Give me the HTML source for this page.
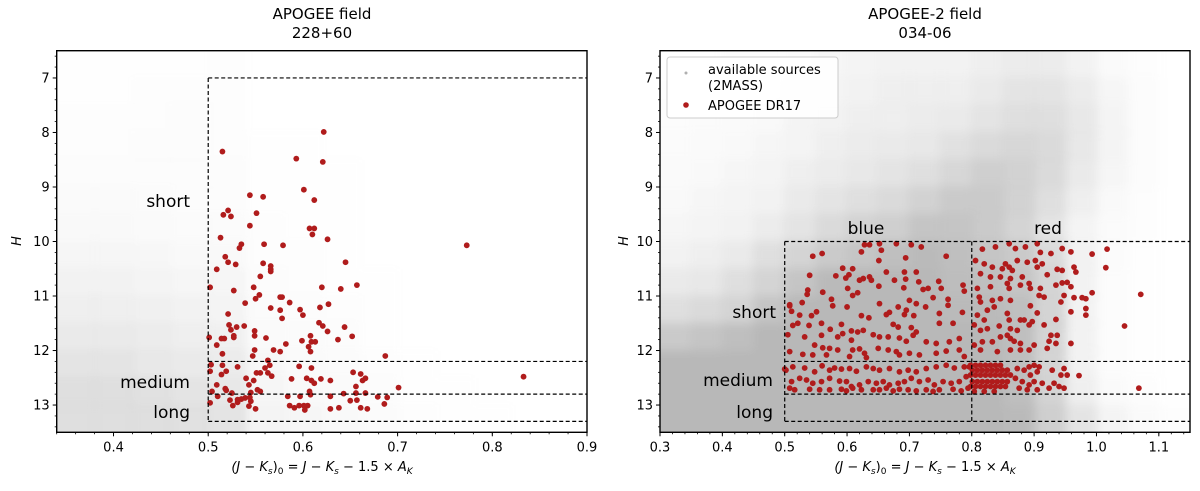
<!DOCTYPE html>
<html><head><meta charset="utf-8"><style>
html,body{margin:0;padding:0;background:#fff;}
svg text{font-family:"DejaVu Sans","Liberation Sans",sans-serif;}
</style></head><body>
<svg id="fig" width="1200" height="486" viewBox="0 0 1200 486" xmlns="http://www.w3.org/2000/svg">
<defs>
<filter id="blurR" x="-5%" y="-5%" width="110%" height="110%"><feGaussianBlur stdDeviation="5"/></filter>
<filter id="blurL" x="-5%" y="-5%" width="110%" height="110%"><feGaussianBlur stdDeviation="4"/></filter>
<clipPath id="clipL"><rect x="56.7" y="50.7" width="530.3" height="381.6"/></clipPath>
<clipPath id="clipR"><rect x="660" y="50.7" width="530" height="381.6"/></clipPath>
</defs>
</svg>
<script>
// ---------- data ----------
const leftRedX = [0.622,0.515,0.593,0.621,0.601,0.544,0.558,0.612,0.551,0.521,0.516,0.524,0.544,0.607,0.612,0.610,0.513,0.626,0.535,0.533,0.559,0.579,0.773,0.518,0.521,0.529,0.509,0.558,0.566,0.566,0.566,0.645,0.555,0.502,0.548,0.620,0.640,0.657,0.527,0.554,0.550,0.576,0.578,0.586,0.539,0.566,0.576,0.597,0.600,0.618,0.627,0.521,0.578,0.617,0.621,0.644,0.626,0.522,0.524,0.530,0.538,0.549,0.549,0.501,0.514,0.517,0.527,0.527,0.561,0.608,0.599,0.609,0.613,0.606,0.608,0.637,0.652,0.582,0.509,0.569,0.576,0.549,0.547,0.515,0.687,0.563,0.503,0.515,0.531,0.565,0.560,0.596,0.609,0.502,0.519,0.514,0.551,0.555,0.563,0.567,0.653,0.661,0.540,0.548,0.588,0.604,0.619,0.629,0.666,0.663,0.609,0.612,0.833,0.509,0.543,0.701,0.504,0.518,0.519,0.525,0.545,0.552,0.555,0.607,0.608,0.643,0.656,0.656,0.666,0.510,0.523,0.531,0.535,0.539,0.526,0.531,0.544,0.545,0.543,0.550,0.502,0.584,0.597,0.629,0.586,0.591,0.596,0.601,0.605,0.602,0.629,0.638,0.650,0.657,0.661,0.668,0.679,0.689,0.686];
const leftRedH = [7.99,8.35,8.48,8.54,9.05,9.15,9.18,9.24,9.48,9.43,9.51,9.54,9.71,9.76,9.76,9.87,9.93,9.96,10.05,10.12,10.05,10.07,10.07,10.28,10.38,10.42,10.51,10.40,10.45,10.51,10.55,10.38,10.64,10.84,10.84,10.84,10.87,10.80,10.90,10.98,11.05,11.02,11.02,11.12,11.13,11.22,11.26,11.25,11.35,11.21,11.15,11.33,11.41,11.49,11.55,11.57,11.65,11.53,11.62,11.57,11.55,11.64,11.73,11.76,11.78,11.78,11.76,11.73,11.77,11.73,11.82,11.84,11.84,11.93,12.02,11.80,11.74,11.88,11.90,11.99,12.02,11.99,12.10,12.06,12.10,12.18,12.26,12.27,12.30,12.27,12.32,12.29,12.32,12.38,12.38,12.44,12.41,12.41,12.41,12.47,12.40,12.43,12.51,12.55,12.52,12.51,12.52,12.55,12.51,12.55,12.55,12.60,12.48,12.63,12.63,12.68,12.75,12.70,12.73,12.78,12.77,12.72,12.75,12.75,12.81,12.79,12.66,12.78,12.78,12.84,12.91,12.90,12.89,12.87,13.01,12.95,12.86,12.93,13.02,13.07,12.96,12.84,12.84,12.84,13.01,13.05,13.01,13.01,13.01,13.09,13.07,13.05,12.92,12.91,13.05,13.07,12.85,12.86,12.98];
const rightRedX = [0.628,0.636,0.652,0.679,0.703,0.719,0.623,0.655,0.545,0.560,0.759,0.651,0.694,0.593,0.609,0.711,0.663,0.692,0.540,0.582,0.598,0.603,0.620,0.626,0.636,0.639,0.676,0.694,0.715,0.747,0.651,0.691,0.601,0.617,0.609,0.561,0.537,0.536,0.730,0.722,0.751,0.786,0.788,0.738,0.575,0.577,0.600,0.652,0.682,0.695,0.700,0.711,0.726,0.762,0.762,0.551,0.508,0.511,0.528,0.623,0.635,0.663,0.668,0.692,0.707,0.748,0.785,0.524,0.543,0.513,0.521,0.539,0.559,0.573,0.591,0.593,0.607,0.617,0.626,0.642,0.674,0.682,0.703,0.711,0.748,0.770,0.505,0.532,0.559,0.585,0.607,0.652,0.666,0.684,0.695,0.706,0.727,0.743,0.764,0.780,0.548,0.561,0.572,0.585,0.609,0.620,0.628,0.650,0.666,0.679,0.684,0.700,0.743,0.759,0.780,0.508,0.529,0.545,0.567,0.604,0.631,0.716,0.788,
0.502,0.513,0.532,0.548,0.560,0.572,0.580,0.591,0.604,0.615,0.631,0.642,0.652,0.668,0.684,0.698,0.711,0.727,0.743,0.759,0.772,0.788,0.796,
0.511,0.524,0.535,0.545,0.559,0.572,0.588,0.599,0.607,0.620,0.634,0.647,0.658,0.668,0.682,0.692,0.703,0.716,0.730,0.740,0.754,0.767,0.780,0.791,
0.508,0.516,0.540,0.556,0.572,0.591,0.599,0.609,0.623,0.642,0.652,0.663,0.674,0.684,0.698,0.711,0.727,0.738,0.748,0.770,0.783,0.794,0.500,0.508,
0.817,0.838,0.860,0.870,0.886,0.905,0.910,0.927,0.945,0.959,0.993,1.017,1.015,1.071,1.045,1.068,0.806,0.820,0.833,0.849,0.854,0.860,0.865,0.873,0.889,0.902,0.905,0.913,0.937,0.945,0.964,0.967,0.814,0.846,0.862,0.881,0.921,0.830,0.809,0.830,0.857,0.860,0.878,0.892,0.894,0.910,0.935,0.945,0.953,0.959,0.983,0.977,0.993,0.964,0.948,0.812,0.814,0.833,0.846,0.862,0.916,0.908,0.943,0.894,0.905,0.836,0.825,0.809,0.857,0.860,0.878,0.884,0.897,0.935,0.983,0.983,0.959,0.820,0.804,0.814,0.825,0.844,0.862,0.873,0.892,0.916,0.927,0.937,0.924,0.935,0.959,0.857,0.862,0.846,0.868,0.878,0.833,0.817,0.804,0.814,0.841,0.862,0.878,0.892,0.900,0.921,
0.798,0.806,0.814,0.822,0.830,0.838,0.846,
0.801,0.809,0.817,0.825,0.833,0.841,0.849,0.857,
0.798,0.806,0.814,0.822,0.830,0.838,0.846,0.854,0.862,
0.801,0.809,0.817,0.825,0.833,0.841,0.849,0.857,
0.798,0.806,0.814,0.822,0.830,0.838,0.846,0.854,
0.804,0.820,0.836,
0.873,0.884,0.892,0.900,0.908,0.905,0.894,0.870,0.881,0.892,0.900,0.913,0.929,0.943,0.953,0.948,0.972,0.932,0.940,0.924,0.905,0.876,0.889,0.948];
const rightRedH = [10.06,10.06,10.04,10.04,10.06,10.10,10.19,10.16,10.27,10.22,10.27,10.35,10.30,10.49,10.50,10.56,10.56,10.56,10.62,10.63,10.67,10.61,10.71,10.68,10.65,10.71,10.71,10.69,10.74,10.73,10.82,10.85,10.86,10.94,10.99,10.93,10.89,10.97,10.86,10.88,10.86,10.80,10.91,11.03,11.06,11.18,11.20,11.14,11.20,11.26,11.08,11.14,11.20,11.06,11.17,11.29,11.18,11.28,11.12,11.36,11.40,11.34,11.30,11.34,11.36,11.32,11.30,11.35,11.36,11.54,11.50,11.54,11.50,11.61,11.52,11.69,11.64,11.66,11.63,11.71,11.52,11.57,11.58,11.66,11.50,11.50,11.71,11.75,11.72,11.75,11.81,11.75,11.75,11.77,11.83,11.72,11.84,11.87,11.84,11.78,11.90,11.95,11.96,11.99,11.99,11.97,12.05,11.96,11.99,12.02,12.08,12.05,12.05,12.01,11.99,12.02,12.07,12.08,12.08,12.11,12.13,12.08,12.11,
12.36,12.30,12.32,12.39,12.28,12.36,12.32,12.34,12.33,12.38,12.30,12.33,12.36,12.33,12.39,12.36,12.39,12.33,12.30,12.27,12.32,12.30,12.30,
12.57,12.51,12.54,12.60,12.57,12.51,12.56,12.57,12.66,12.63,12.57,12.60,12.57,12.63,12.60,12.57,12.51,12.57,12.54,12.63,12.57,12.60,12.57,12.48,
12.69,12.72,12.71,12.72,12.72,12.71,12.74,12.69,12.72,12.72,12.72,12.69,12.74,12.71,12.72,12.74,12.72,12.75,12.72,12.71,12.74,12.69,12.34,11.16,
10.14,10.10,10.04,10.13,10.10,10.04,10.20,10.22,10.13,10.19,10.23,10.14,10.48,10.97,11.55,12.69,10.35,10.41,10.47,10.50,10.41,10.47,10.53,10.35,10.38,10.35,10.47,10.41,10.51,10.53,10.47,10.56,10.59,10.65,10.68,10.65,10.61,10.65,10.86,10.83,10.77,10.86,10.80,10.77,10.86,10.86,10.80,10.76,10.75,10.83,11.05,11.03,10.94,11.03,10.99,11.02,11.11,11.08,11.05,11.08,11.02,10.99,11.11,11.18,11.31,11.20,11.26,11.35,11.32,11.44,11.44,11.44,11.47,11.43,11.23,11.35,11.29,11.44,11.53,11.63,11.60,11.55,11.60,11.63,11.53,11.53,11.72,11.72,11.83,11.87,11.87,11.72,11.78,11.75,11.83,11.87,11.84,11.84,11.90,11.99,12.02,11.99,11.99,11.99,11.90,11.96,
12.27,12.27,12.27,12.27,12.27,12.27,12.27,
12.36,12.36,12.36,12.36,12.36,12.36,12.36,12.36,
12.45,12.45,12.45,12.45,12.45,12.45,12.45,12.45,12.45,
12.57,12.57,12.57,12.57,12.57,12.57,12.57,12.57,
12.66,12.66,12.66,12.66,12.66,12.66,12.66,12.66,
12.75,12.75,12.75,
12.33,12.36,12.30,12.27,12.30,12.39,12.45,12.51,12.57,12.63,12.57,12.60,12.36,12.45,12.45,12.33,12.46,12.60,12.66,12.69,12.72,12.69,12.72,12.69];

// gray-source density grids (bin lower edges)
const leftGrayXBins = [0.34,0.38,0.42,0.46,0.50,0.54,0.58,0.62,0.66,0.70,0.74,0.78,0.82,0.86];
const leftGrayHBins = [6.5,7.0,7.5,8.0,8.5,9.0,9.5,10.0,10.5,11.0,11.5,12.0,12.5,13.0];
const leftGrayDensity = [
[0.01,0.01,0.01,0.01,0.02,0,0,0,0,0,0,0,0,0],
[0.01,0.01,0.02,0.02,0.02,0,0,0,0,0,0,0,0,0],
[0.02,0.02,0.02,0.03,0.02,0,0,0,0,0,0,0,0,0],
[0.02,0.02,0.03,0.03,0.02,0.01,0.01,0,0,0,0,0,0,0],
[0.03,0.03,0.03,0.03,0.03,0.01,0.01,0.01,0,0,0,0,0,0],
[0.05,0.05,0.04,0.03,0.03,0.01,0.01,0.01,0,0,0,0,0,0],
[0.06,0.06,0.05,0.04,0.04,0.02,0.01,0.01,0,0,0,0,0,0],
[0.08,0.08,0.07,0.06,0.06,0.02,0.02,0.01,0,0,0,0,0,0],
[0.12,0.12,0.10,0.08,0.08,0.03,0.02,0.01,0.01,0,0,0,0,0],
[0.15,0.15,0.14,0.12,0.10,0.04,0.03,0.02,0.01,0,0,0,0,0],
[0.20,0.20,0.18,0.15,0.14,0.05,0.04,0.03,0.01,0,0,0,0,0],
[0.25,0.25,0.22,0.20,0.18,0.07,0.05,0.04,0.02,0.01,0,0,0,0],
[0.30,0.30,0.28,0.25,0.22,0.08,0.06,0.05,0.03,0.01,0.01,0,0,0],
[0.30,0.30,0.30,0.28,0.25,0.10,0.08,0.06,0.04,0.02,0.01,0.01,0,0]];
const rightGrayXBins = [0.30,0.35,0.40,0.45,0.50,0.55,0.60,0.65,0.70,0.75,0.80,0.85,0.90,0.95,1.00,1.05,1.10];
const rightGrayHBins = [6.5,7.0,7.5,8.0,8.5,9.0,9.5,10.0,10.5,11.0,11.5,12.0,12.5,13.0];
const rightGrayDensity = [
[0,0,0.03,0.03,0.05,0.08,0.10,0.12,0.12,0.12,0.15,0.18,0.18,0.12,0.05,0.02,0],
[0.02,0.03,0.04,0.05,0.08,0.10,0.12,0.15,0.15,0.15,0.20,0.25,0.25,0.18,0.08,0.03,0],
[0.03,0.04,0.05,0.06,0.10,0.12,0.15,0.15,0.18,0.20,0.25,0.30,0.30,0.22,0.10,0.03,0],
[0.04,0.05,0.06,0.08,0.10,0.15,0.18,0.20,0.22,0.28,0.35,0.38,0.35,0.22,0.10,0.03,0],
[0.05,0.06,0.08,0.10,0.15,0.18,0.22,0.25,0.30,0.38,0.45,0.42,0.35,0.20,0.08,0.03,0],
[0.06,0.08,0.10,0.12,0.20,0.25,0.30,0.35,0.42,0.50,0.50,0.42,0.30,0.15,0.06,0.02,0],
[0.08,0.10,0.12,0.18,0.25,0.35,0.42,0.45,0.55,0.55,0.50,0.40,0.25,0.10,0.04,0.02,0],
[0.12,0.15,0.20,0.30,0.40,0.50,0.55,0.60,0.65,0.60,0.55,0.50,0.35,0.12,0.04,0.01,0],
[0.20,0.22,0.30,0.40,0.55,0.65,0.70,0.70,0.70,0.62,0.60,0.55,0.40,0.12,0.03,0.01,0],
[0.30,0.35,0.40,0.55,0.70,0.80,0.80,0.80,0.75,0.65,0.65,0.60,0.40,0.12,0.03,0.01,0],
[0.50,0.55,0.60,0.70,0.85,0.90,0.90,0.90,0.85,0.70,0.70,0.60,0.40,0.12,0.03,0.01,0],
[0.80,0.80,0.85,0.90,0.95,0.95,0.95,0.95,0.90,0.75,0.75,0.60,0.40,0.12,0.03,0.01,0],
[0.95,0.95,1,1,1,1,1,1,0.95,0.85,0.80,0.60,0.40,0.15,0.05,0.02,0],
[1,1,1,1,1,1,1,1,1,0.95,0.85,0.65,0.45,0.25,0.10,0.05,0.02]];

const hTicks = [7,8,9,10,11,12,13];
const leftXTicks = [0.4,0.5,0.6,0.7,0.8,0.9];
const rightXTicks = [0.3,0.4,0.5,0.6,0.7,0.8,0.9,1.0,1.1];
const leftCuts = [7,12.2,12.8,13.3];
const rightCuts = [10,12.2,12.8,13.3];

// ---------- drawing ----------
const NS = 'http://www.w3.org/2000/svg';
const svg = document.getElementById('fig');
function mk(tag, attrs, parent){ const e=document.createElementNS(NS,tag); for(const k in attrs) e.setAttribute(k,attrs[k]); (parent||svg).appendChild(e); return e; }

function panel(cfg){
  const {x0,x1,px0,px1,py0,py1,h0,h1} = cfg;
  const sx = v => px0 + (v-x0)/(x1-x0)*(px1-px0);
  const sy = v => py0 + (v-h0)/(h1-h0)*(py1-py0);
  const g = mk('g',{});
  
  
  const dg = mk('g',{'clip-path':'url(#'+cfg.clip+')'}, g);
  
  
  const inner = mk('g',{filter:'url(#'+cfg.blur+')'}, dg);
  const nr = cfg.dens.length, nc = cfg.xb.length, step = cfg.xb[1]-cfg.xb[0];
  cfg.dens.forEach((row,i)=>row.forEach((d,j)=>{
    if(d<=0) return;
    const xa=cfg.xb[j], xb=xa+step;
    const ha=cfg.hb[i], hb=ha+0.5;
    let rx=sx(xa), rw=sx(xb)-sx(xa)+0.6, ry=sy(ha), rh=sy(hb)-sy(ha)+0.6;
    if(j===0){ rx-=20; rw+=20; }
    if(j===nc-1){ rw+=20; }
    if(i===0){ ry-=20; rh+=20; }
    if(i===nr-1){ rh+=20; }
    const r = mk('rect',{x:rx,y:ry,width:rw,height:rh,fill:'#b8b8b8','fill-opacity':Math.min(1,d*cfg.gain)}, inner);
    
    
  }));
  const rg = mk('g',{'clip-path':'url(#'+cfg.clip+')'}, g);
  
  
  cfg.rx.forEach((v,i)=>{
    const c = mk('circle',{cx:sx(v),cy:sy(cfg.rh[i]),r:2.9,fill:'#b01c1c'}, rg);
    
    
  });
  const dash = {stroke:'#000','stroke-width':1.2,'stroke-dasharray':'4,2.5',fill:'none'};
  const cuts = cfg.cuts;
  cfg.vlines.forEach(v=>{
    const l = mk('line',Object.assign({x1:sx(v),x2:sx(v),y1:sy(cuts[0]),y2:sy(cuts[3])},dash), g);
    
    
  });
  cuts.forEach(c=>{
    const l = mk('line',Object.assign({x1:sx(cfg.vlines[0]),x2:px1,y1:sy(c),y2:sy(c)},dash), g);
    
    
  });
  const f = mk('rect',{x:px0,y:py0,width:px1-px0,height:py1-py0,fill:'none',stroke:'#000','stroke-width':1.4}, g);
  
  
  for(let v=6.6; v<=13.41; v+=0.2){
    const y=sy(v); mk('line',{x1:px0-2,x2:px0,y1:y,y2:y,stroke:'#000','stroke-width':0.8}, g);
  }
  hTicks.forEach(v=>{
    const y=sy(v); mk('line',{x1:px0-4,x2:px0,y1:y,y2:y,stroke:'#000','stroke-width':1}, g);
    const t = mk('text',{x:px0-7,y:y+4.5,'font-size':13,'text-anchor':'end'}, g); t.textContent=v;
    
    
  });
  for(let k=Math.ceil(x0/0.02); k*0.02<=x1+1e-9; k++){
    const x=sx(k*0.02); mk('line',{x1:x,x2:x,y1:py1,y2:py1+2,stroke:'#000','stroke-width':0.8}, g);
  }
  cfg.xt.forEach(v=>{
    const x=sx(v); mk('line',{x1:x,x2:x,y1:py1,y2:py1+4,stroke:'#000','stroke-width':1}, g);
    const t = mk('text',{x:x,y:py1+19,'font-size':13,'text-anchor':'middle'}, g); t.textContent=v.toFixed(1);
    
    
  });
  return {sx,sy,g};
}

panel({name:'left-panel',x0:0.34,x1:0.9,px0:56.7,px1:587,py0:50.7,py1:432.3,h0:6.5,h1:13.5,
  clip:'clipL',blur:'blurL',gain:1.5,dens:leftGrayDensity,xb:leftGrayXBins,hb:leftGrayHBins,rx:leftRedX,rh:leftRedH,
  cuts:leftCuts,vlines:[0.5],xt:leftXTicks});
panel({name:'right-panel',x0:0.3,x1:1.15,px0:660,px1:1190,py0:50.7,py1:432.3,h0:6.5,h1:13.5,
  clip:'clipR',blur:'blurR',gain:1.5,dens:rightGrayDensity,xb:rightGrayXBins,hb:rightGrayHBins,rx:rightRedX,rh:rightRedH,
  cuts:rightCuts,vlines:[0.5,0.8],xt:rightXTicks});
</script>
<svg width="1200" height="486" style="position:absolute;left:0;top:0">
<g font-family="DejaVu Sans, Liberation Sans, sans-serif" fill="#000">
<text x="322" y="19" font-size="15" text-anchor="middle">APOGEE field</text>
<text x="322" y="38" font-size="15" text-anchor="middle">228+60</text>
<text x="925" y="19" font-size="15" text-anchor="middle">APOGEE-2 field</text>
<text x="925" y="38" font-size="15" text-anchor="middle">034-06</text>
<text x="21" y="241" font-size="13" font-style="italic" text-anchor="middle" transform="rotate(-90 21 241)">H</text>
<text x="628" y="241" font-size="13" font-style="italic" text-anchor="middle" transform="rotate(-90 628 241)">H</text>
<text x="322" y="471" font-size="13" text-anchor="middle"><tspan font-style="italic">(J</tspan> − <tspan font-style="italic">K</tspan><tspan font-size="9" font-style="italic" dy="3">s</tspan><tspan dy="-3">)</tspan><tspan font-size="9" dy="3">0</tspan><tspan dy="-3"> = </tspan><tspan font-style="italic">J</tspan> − <tspan font-style="italic">K</tspan><tspan font-size="9" font-style="italic" dy="3">s</tspan><tspan dy="-3"> − 1.5 × </tspan><tspan font-style="italic">A</tspan><tspan font-size="9" font-style="italic" dy="3">K</tspan></text>
<text x="925" y="471" font-size="13" text-anchor="middle"><tspan font-style="italic">(J</tspan> − <tspan font-style="italic">K</tspan><tspan font-size="9" font-style="italic" dy="3">s</tspan><tspan dy="-3">)</tspan><tspan font-size="9" dy="3">0</tspan><tspan dy="-3"> = </tspan><tspan font-style="italic">J</tspan> − <tspan font-style="italic">K</tspan><tspan font-size="9" font-style="italic" dy="3">s</tspan><tspan dy="-3"> − 1.5 × </tspan><tspan font-style="italic">A</tspan><tspan font-size="9" font-style="italic" dy="3">K</tspan></text>
<g font-size="17">
<text x="190" y="207" text-anchor="end">short</text>
<text x="190" y="388" text-anchor="end">medium</text>
<text x="190" y="418" text-anchor="end">long</text>
<text x="776" y="318" text-anchor="end">short</text>
<text x="773" y="386" text-anchor="end">medium</text>
<text x="773" y="418" text-anchor="end">long</text>
<text x="866" y="234" text-anchor="middle">blue</text>
<text x="1048" y="234" text-anchor="middle">red</text>
</g>
<g>
<rect x="667" y="57" width="171" height="61" rx="3" fill="#fff" fill-opacity="0.85" stroke="#ccc" stroke-width="1"/>
<circle cx="686" cy="73" r="1.5" fill="#b0b0b0"/>
<text x="708" y="74" font-size="13">available sources</text>
<text x="708" y="90" font-size="13">(2MASS)</text>
<circle cx="686" cy="105" r="2.8" fill="#b01c1c"/>
<text x="708" y="110" font-size="13">APOGEE DR17</text>
</g>
</g>
</svg>
</body></html>
